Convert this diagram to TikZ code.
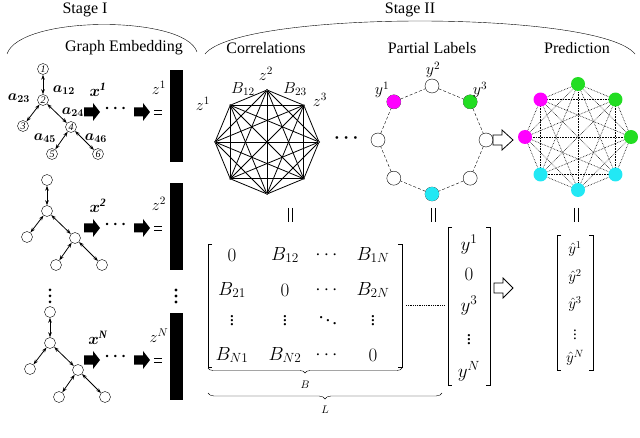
\RequirePackage{fix-cm}
\documentclass[tikz,border=0pt]{standalone}
\usepackage{amsmath,bm}
\usepackage{fontspec}
\setmainfont{Liberation Serif}
\usetikzlibrary{decorations.pathreplacing,arrows.meta}
\definecolor{mag}{HTML}{FF00FF}
\definecolor{grn}{HTML}{22DD22}
\definecolor{cyn}{HTML}{22E8F4}
\tikzset{
  tn/.style={draw,circle,inner sep=0pt,minimum size=11pt,font=\fontsize{10}{10}\selectfont\itshape},
  te/.style={{Stealth[length=5pt,width=3.5pt]}-{Stealth[length=5pt,width=3.5pt]},thick},
  lbl/.style={font=\fontsize{16}{16}\selectfont},
  al/.style={font=\fontsize{15}{15}\selectfont},
  ent/.style={font=\fontsize{19}{19}\selectfont},
  cn/.style={circle,fill,inner sep=0pt,minimum size=2pt},
  pn/.style={circle,draw,inner sep=0pt,minimum size=14pt,fill=white},
  cf/.style={circle,inner sep=0pt,minimum size=14pt},
}
\newcommand\mytree[4]{% prefix, x, y, numbered
  \node[tn] (#1a) at (#2,#3) {#4{1}};
  \node[tn] (#1b) at (#2,#3+31) {#4{2}};
  \node[tn] (#1c) at (#2-20,#3+57) {#4{3}};
  \node[tn] (#1d) at (#2+28,#3+58) {#4{4}};
  \node[tn] (#1e) at (#2+9,#3+85) {#4{5}};
  \node[tn] (#1f) at (#2+55,#3+85) {#4{6}};
  \draw[te] (#1a)--(#1b); \draw[te] (#1b)--(#1c); \draw[te] (#1b)--(#1d);
  \draw[te] (#1d)--(#1e); \draw[te] (#1d)--(#1f);
}
\newcommand\shownum[1]{#1}
\newcommand\hidenum[1]{}
\newcommand\blk[3]{% name, x, y
  \fill (#2-8,#3-4.5) -- (#2+1,#3-4.5) -- (#2+1,#3-9) -- (#2+8,#3) -- (#2+1,#3+9) -- (#2+1,#3+4.5) -- (#2-8,#3+4.5) -- cycle;
  \coordinate (#1) at (#2,#3);
}
\newcommand\eqsign[2]{\draw[thick] (#1-4,#2-2)--(#1+4,#2-2) (#1-4,#2+2)--(#1+4,#2+2);}
\newcommand\vbars[2]{\draw[thick] (#1-2,#2-7)--(#1-2,#2+7) (#1+2,#2-7)--(#1+2,#2+7);}
\newcommand\lbr[3]{\draw[thick] (#1+4,#2)--(#1,#2)--(#1,#3)--(#1+4,#3);}
\newcommand\rbr[3]{\draw[thick] (#1-4,#2)--(#1,#2)--(#1,#3)--(#1-4,#3);}
\begin{document}
\begin{tikzpicture}[x=1pt,y=-1pt]
\useasboundingbox (0,0) rectangle (640,438);
% stage arcs
\node[lbl] (s1) at (85,10) {Stage I};
\node[lbl] (s2) at (410,10) {Stage II};
\draw (7,54) .. controls (20,15) and (185,15) .. (197,52);
\draw (205,54) .. controls (240,10) and (600,10) .. (635,54);
\node[lbl] (ge) at (124,48) {Graph Embedding};
\node[lbl] (co) at (266,48) {Correlations};
\node[lbl] (pl) at (432,48) {Partial Labels};
\node[lbl] (pr) at (577,48) {Prediction};
% trees
\mytree{A}{43}{69}{\shownum}
\mytree{Bt}{47}{180}{\hidenum}
\mytree{C}{50}{312}{\hidenum}
\node[al] at (19,98) {$\bm{a_{23}}$};
\node[al] at (64,90) {$\bm{a_{12}}$};
\node[al] at (73,112) {$\bm{a_{24}}$};
\node[al] at (45,138) {$\bm{a_{45}}$};
\node[al] at (96,138) {$\bm{a_{46}}$};
% arrows rows
\foreach \r/\yy/\s/\bt/\bb in {1/112/1/70/162,2/228/2/183/270,3/360/N/313/400}{
  \blk{ar\r a}{92}{\yy}
  \node[font=\fontsize{16}{16}\selectfont] (dt\r) at (117,\yy-3) {$\bm{\cdots}$};
  \blk{ar\r b}{142}{\yy}
  \eqsign{158}{\yy}
  \fill (170,\bt) rectangle (183,\bb);
  \node[lbl] (x\r) at (98,\yy-22) {$\bm{x^{\mathit{\s}}}$};
  \node[lbl] (z\r) at (159,\yy-24) {$z^{\s}$};
}
\foreach \yy in {290,296,302}{\fill (50,\yy) circle (1.5); \fill (176,\yy) circle (1.7);}
% correlations K8
\foreach \k in {1,...,8}{\path (267,142) ++({45*\k-180}:52) node[cn] (c\k) {};}
\foreach \i in {1,...,7}{\pgfmathtruncatemacro\s{\i+1}\foreach \j in {\s,...,8}{\draw[thick] (c\i)--(c\j);}}
\node[lbl] at (203,104) {$z^1$};
\node[lbl] at (266,74) {$z^2$};
\node[lbl] at (320,100) {$z^3$};
\node[lbl] at (243,89) {$B_{12}$};
\node[lbl] at (295,89) {$B_{23}$};
\node[font=\fontsize{18}{18}\selectfont] (mdots) at (348,138) {$\bm{\cdots}$};
% partial labels
\foreach \k in {1,...,8}{\path (432,140) ++({45*\k-180}:54) node[pn] (p\k) {};}
\foreach \k/\c in {1/mag,3/grn,6/cyn}{\node[cf,fill=\c] at (p\k) {};}
\foreach \i/\j in {1/2,2/3,3/4,4/5,5/6,6/7,7/8,8/1}{\draw[densely dashed] (p\i)--(p\j);}
\node[lbl] at (382,90) {$y^1$};
\node[lbl] at (433,70) {$y^2$};
\node[lbl] at (480,90) {$y^3$};
% hollow arrows
\draw[thick] (493,135)--(502,135)--(502,130)--(513,140)--(502,150)--(502,145)--(493,145)--cycle;
\draw[thick] (494,283)--(503,283)--(503,278)--(513,288)--(503,298)--(503,293)--(494,293)--cycle;
% prediction
\foreach \k in {1,...,8}{\path (578,137) ++({45*\k-180}:53) coordinate (q\k);}
\foreach \i in {1,...,7}{\pgfmathtruncatemacro\s{\i+1}\foreach \j in {\s,...,8}{\draw[densely dotted,semithick] (q\i)--(q\j);}}
\foreach \k/\c in {1/mag,2/grn,3/grn,4/grn,5/cyn,6/cyn,7/cyn,8/mag}{\node[cf,fill=\c] (qn\k) at (q\k) {};}
% equal bars
\vbars{290}{215}\vbars{433}{215}\vbars{576}{215}
% matrix B
\lbr{208}{244}{367}\rbr{402}{244}{367}
\foreach \e/\xx/\yy in {0/232/255,B_{12}/285/255,\cdots/328/255,B_{1N}/373/255,
  B_{21}/232/290,0/285/290,\cdots/328/290,B_{2N}/373/290,
  \vdots/232/318,\vdots/285/318,\ddots/328/318,\vdots/373/318,
  B_{N1}/232/355,B_{N2}/285/355,\cdots/328/355,0/373/355}{
  \node[ent,inner sep=0pt] at (\xx,\yy) {$\e$};}
\draw[decorate,decoration={brace,mirror,amplitude=5pt}] (208,368)--(402,368);
\node[font=\fontsize{11}{11}\selectfont] at (305,385) {$B$};
\draw[decorate,decoration={brace,mirror,amplitude=6pt}] (208,393)--(442,393);
\node[font=\fontsize{11}{11}\selectfont] at (325,410) {$L$};
\draw[densely dotted,thick] (406,305)--(444,305);
% vector y
\lbr{448}{227}{385}\rbr{490}{227}{385}
\foreach \e/\yy in {y^1/245,0/274,y^3/306,\vdots/337,y^N/371}{\node[ent,inner sep=0pt] at (469,\yy) {$\e$};}
% vector yhat
\lbr{557}{235}{370}\rbr{593}{235}{370}
\foreach \e/\yy in {\hat{y}^1/249,\hat{y}^2/277,\hat{y}^3/304,\vdots/332,\hat{y}^N/358}{\node[font=\fontsize{15}{15}\selectfont,inner sep=0pt] at (575,\yy) {$\e$};}
\end{tikzpicture}
\end{document}
